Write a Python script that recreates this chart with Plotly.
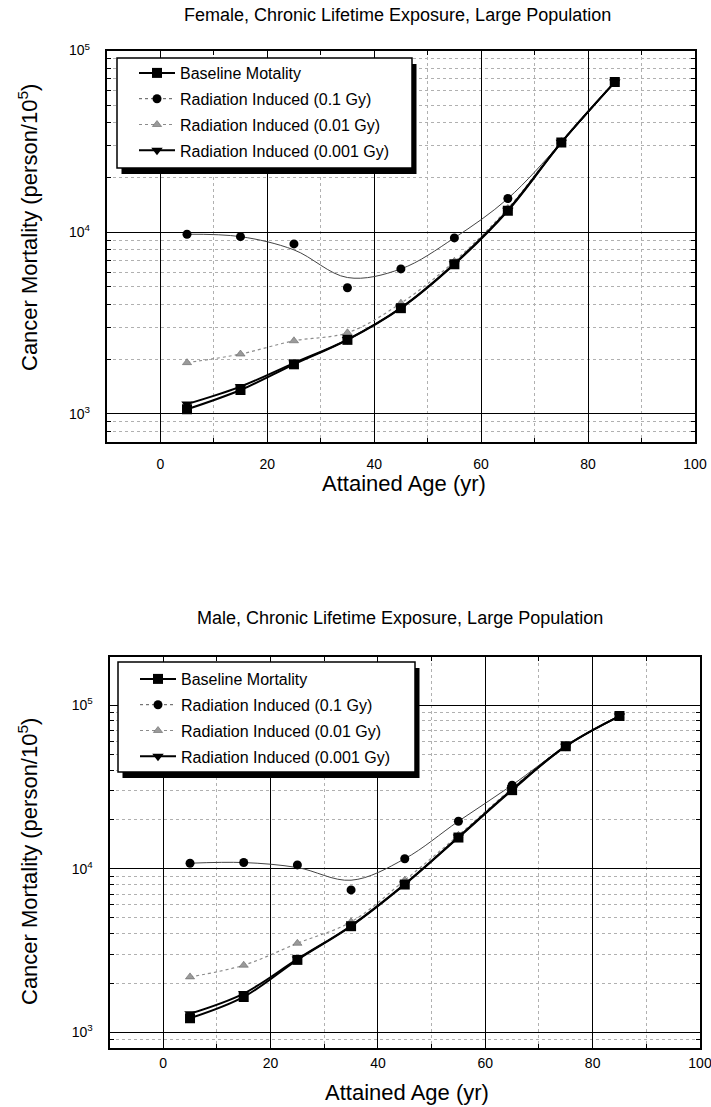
import plotly.graph_objects as go

# ---------------- data ----------------
age = [5, 15, 25, 35, 45, 55, 65, 75, 85]

# Female
female_baseline = [1057, 1350, 1870, 2550, 3810, 6650, 13100, 31100, 67000]
female_rad_0p1 = [9730, 9440, 8610, 4940, 6270, 9290, 15300, 31100, 67000]
female_rad_0p1_fit = [9730, 9440, 7980, 5620, 6270, 9290, 15300, 31100, 67000]
female_rad_0p01 = [1910, 2130, 2520, 2790, 4060, 6900, 13500, 31500, 67000]
female_rad_0p001 = [1130, 1410, 1900, 2560, 3830, 6700, 13200, 31200, 67000]

# Male
male_baseline = [1218, 1645, 2770, 4450, 8000, 15500, 30200, 56100, 85700]
male_rad_0p1 = [10800, 10900, 10540, 7420, 11500, 19500, 32400, 56100, 85700]
male_rad_0p1_fit = [10800, 10900, 10160, 8500, 11500, 19500, 32400, 56100, 85700]
male_rad_0p01 = [2180, 2570, 3500, 4730, 8500, 16000, 31000, 56500, 85700]
male_rad_0p001 = [1300, 1725, 2800, 4480, 8050, 15600, 30500, 56100, 85700]

series_names = ["Baseline Motality", "Radiation Induced (0.1 Gy)",
                "Radiation Induced (0.01 Gy)", "Radiation Induced (0.001 Gy)"]
series_names_male = ["Baseline Mortality", "Radiation Induced (0.1 Gy)",
                     "Radiation Induced (0.01 Gy)", "Radiation Induced (0.001 Gy)"]

x_tick_vals = [0, 20, 40, 60, 80, 100]
x_tick_text = ["0", "20", "40", "60", "80", "100"]
y_tick_vals = [1000, 10000, 100000]
y_tick_text = ["10<sup>3</sup>", "10<sup>4</sup>", "10<sup>5</sup>"]

titles = ["Female, Chronic Lifetime Exposure, Large Population",
          "Male, Chronic Lifetime Exposure, Large Population"]
x_title = "Attained Age (yr)"
y_title = "Cancer Mortality (person/10<sup>5</sup>)"

FONT = "Liberation Sans, Arial, Helvetica, sans-serif"
W, H = 711, 1107

fig = go.Figure()

GRAY_TRI = "#9a9a9a"


def add_panel(xa, ya, leg, names, base, r01, r01fit, r001, r0001):
    # 0.01 Gy (gray triangles, dotted)
    fig.add_trace(go.Scatter(x=age, y=r001, mode="lines+markers", name=names[2],
                             xaxis=xa, yaxis=ya, legend=leg, legendgroup=leg + "c",
                             legendrank=3,
                             line=dict(color="#8c8c8c", width=1.2, dash="dot", shape="spline"),
                             marker=dict(symbol="triangle-up", size=8, color=GRAY_TRI,
                                         line=dict(color="#666", width=0.6))))
    # 0.1 Gy fitted curve
    fig.add_trace(go.Scatter(x=age, y=r01fit, mode="lines", showlegend=False,
                             xaxis=xa, yaxis=ya, legend=leg,
                             line=dict(color="#444", width=1, shape="spline")))
    # 0.1 Gy points
    fig.add_trace(go.Scatter(x=age, y=r01, mode="markers", showlegend=False,
                             xaxis=xa, yaxis=ya, legend=leg,
                             marker=dict(symbol="circle", size=9, color="black")))
    # legend entry for 0.1 Gy
    fig.add_trace(go.Scatter(x=[None], y=[None], mode="lines+markers", name=names[1],
                             xaxis=xa, yaxis=ya, legend=leg, legendgroup=leg + "b",
                             legendrank=2,
                             line=dict(color="#555", width=1, dash="dot"),
                             marker=dict(symbol="circle", size=9, color="black")))
    # 0.001 Gy
    fig.add_trace(go.Scatter(x=age, y=r0001, mode="lines+markers", name=names[3],
                             xaxis=xa, yaxis=ya, legend=leg, legendgroup=leg + "d",
                             legendrank=4,
                             line=dict(color="black", width=2, shape="spline"),
                             marker=dict(symbol="triangle-down", size=10, color="black")))
    # baseline
    fig.add_trace(go.Scatter(x=age, y=base, mode="lines+markers", name=names[0],
                             xaxis=xa, yaxis=ya, legend=leg, legendgroup=leg + "a",
                             legendrank=1,
                             line=dict(color="black", width=2, shape="spline"),
                             marker=dict(symbol="square", size=10, color="black")))


add_panel("x", "y", "legend", series_names, female_baseline, female_rad_0p1,
          female_rad_0p1_fit, female_rad_0p01, female_rad_0p001)
add_panel("x2", "y2", "legend2", series_names_male, male_baseline, male_rad_0p1,
          male_rad_0p1_fit, male_rad_0p01, male_rad_0p001)

# panel pixel boxes (left, top, right, bottom)
top_box = (106.8, 50.5, 695.0, 442.0)
bot_box = (109.5, 656.5, 700.0, 1048.3)


def xdom(b):
    return [b[0] / W, b[2] / W]


def ydom(b):
    return [1 - b[3] / H, 1 - b[1] / H]


def xaxis_cfg(box, anchor, standoff):
    return dict(domain=xdom(box), anchor=anchor, range=[-10, 100],
                tickmode="array", tickvals=x_tick_vals, ticktext=x_tick_text,
                showgrid=True, gridcolor="black", gridwidth=1, zeroline=False,
                ticks="inside", ticklen=6, tickwidth=1, tickcolor="black",
                showline=True, linecolor="black", linewidth=2, mirror="allticks",
                tickfont=dict(family=FONT, size=14, color="black"),
                ticklabelstandoff=standoff, ticklabeloverflow="allow",
                minor=dict(tick0=0, dtick=10, ticks="inside", ticklen=4, tickcolor="black",
                           showgrid=True, gridcolor="#b0b0b0", gridwidth=1, griddash="dot"))


def yaxis_cfg(box, anchor, rng):
    return dict(domain=ydom(box), anchor=anchor, type="log", range=rng,
                tickmode="array", tickvals=y_tick_vals, ticktext=y_tick_text,
                showgrid=True, gridcolor="black", gridwidth=1, zeroline=False,
                ticks="inside", ticklen=6, tickwidth=1, tickcolor="black",
                showline=True, linecolor="black", linewidth=2, mirror="allticks",
                tickfont=dict(family=FONT, size=14, color="black"),
                ticklabelstandoff=12, ticklabeloverflow="allow",
                minor=dict(dtick="D1", ticks="inside", ticklen=4, tickcolor="black",
                           showgrid=True, gridcolor="#b0b0b0", gridwidth=1, griddash="dot"))


def legend_cfg(px, py):
    return dict(x=px / W, y=1 - py / H, xanchor="left", yanchor="top",
                bgcolor="rgba(0,0,0,0)", borderwidth=0,
                font=dict(family=FONT, size=16, color="black"),
                traceorder="grouped", tracegroupgap=2, itemwidth=36)


fig.update_layout(
    width=W, height=H, margin=dict(l=0, r=0, t=0, b=0, autoexpand=False),
    paper_bgcolor="white", plot_bgcolor="white", showlegend=True,
    font=dict(family=FONT, color="black"),
    xaxis=xaxis_cfg(top_box, "y", 8), yaxis=yaxis_cfg(top_box, "x", [2.844, 5.0]),
    xaxis2=xaxis_cfg(bot_box, "y2", 1), yaxis2=yaxis_cfg(bot_box, "x2", [2.902, 5.297]),
    legend=legend_cfg(134, 56), legend2=legend_cfg(135, 662),
)

# legend frames with drop shadows (left, top, right, bottom) in pixels
legend_frames = [(117, 58, 412, 168), (118, 662, 415, 772)]
shadow_offset = (4.5, 6)
for (x0, y0, x1, y1) in legend_frames:
    dx, dy = shadow_offset
    fig.add_shape(type="rect", xref="paper", yref="paper",
                  x0=(x0 + dx) / W, x1=(x1 + dx) / W, y0=1 - (y1 + dy) / H, y1=1 - (y0 + dy) / H,
                  fillcolor="black", line=dict(width=0), layer="above")
    fig.add_shape(type="rect", xref="paper", yref="paper",
                  x0=x0 / W, x1=x1 / W, y0=1 - y1 / H, y1=1 - y0 / H,
                  fillcolor="white", line=dict(color="black", width=1.5), layer="above")

# titles
annos = [
    (titles[0], 397, 15, 18, 0),
    (titles[1], 400, 618, 18, 0),
    (x_title, 404, 484, 22, 0),
    (x_title, 407, 1092, 22, 0),
    (y_title, 28, 228, 22, -90),
    (y_title, 28, 862, 22, -90),
]
for text, px, py, size, ang in annos:
    fig.add_annotation(text=text, xref="paper", yref="paper", x=px / W, y=1 - py / H,
                       xanchor="center", yanchor="middle", showarrow=False, textangle=ang,
                       font=dict(family=FONT, size=size, color="black"))

fig.write_html("out.html", config={"displayModeBar": False},
               post_script="document.body.style.margin='0px';document.body.style.padding='0px';")
